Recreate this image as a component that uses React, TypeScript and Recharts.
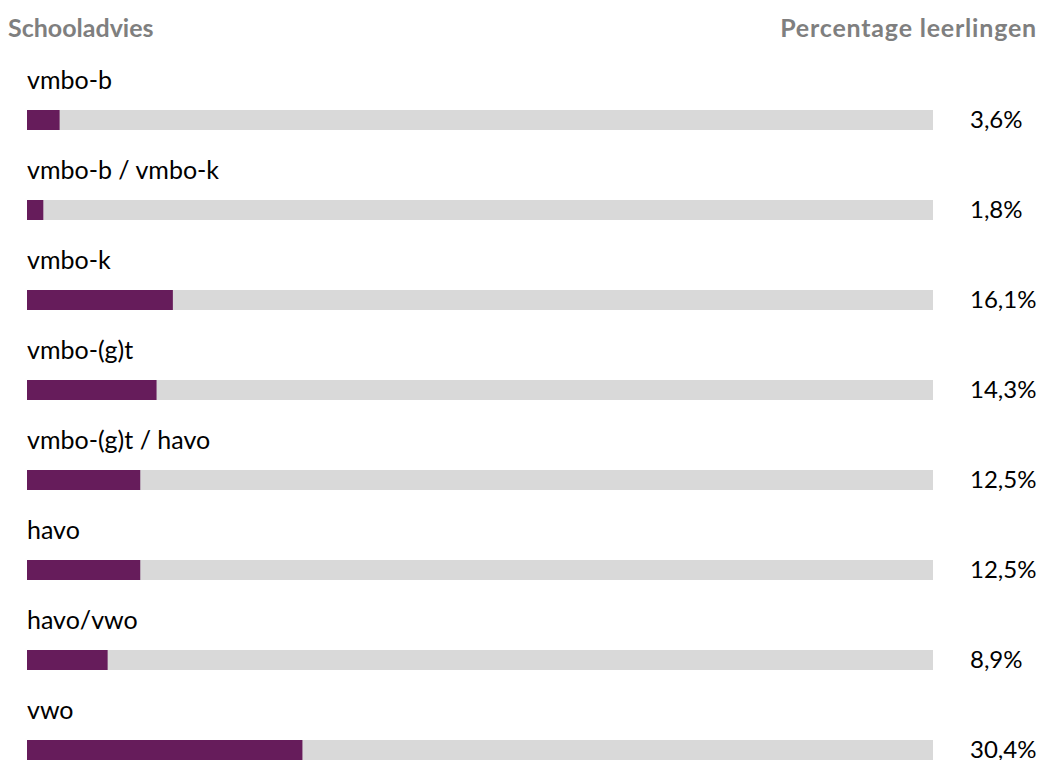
import React from 'react';
import { BarChart, Bar, XAxis, YAxis, LabelList } from 'recharts';

const categories = [
  'vmbo-b',
  'vmbo-b / vmbo-k',
  'vmbo-k',
  'vmbo-(g)t',
  'vmbo-(g)t / havo',
  'havo',
  'havo/vwo',
  'vwo',
];
const percentages = [3.6, 1.8, 16.1, 14.3, 12.5, 12.5, 8.9, 30.4];

const data = categories.map((name, i) => ({ name, value: percentages[i] }));

const PURPLE = '#661c5b';
const TRACK = '#d9d9d9';
const HEADER = '#7f7f7f';
const FONT = 'Lato, "Open Sans", sans-serif';
const PCT_X = 970;

const fmt = (v: number) => `${v.toFixed(1).replace('.', ',')}%`;

const NameLabel = (props: any) => {
  const { x, y, value } = props;
  return (
    <text x={x} y={y - 21} fontSize={25} fontFamily={FONT} fill="#000">
      {value}
    </text>
  );
};

const PctLabel = (props: any) => {
  const { y, value } = props;
  return (
    <text x={PCT_X} y={y + 18} fontSize={24} fontFamily={FONT} fill="#000">
      {fmt(value)}
    </text>
  );
};

export default function App() {
  return (
    <div
      style={{
        position: 'absolute',
        left: 0,
        top: 0,
        width: 1043,
        height: 760,
        overflow: 'hidden',
        background: '#fff',
      }}
    >
      <svg
        width={1043}
        height={60}
        style={{ position: 'absolute', left: 0, top: 0 }}
      >
        <text x={8} y={37} fontSize={25} fontWeight={700} fontFamily={FONT} fill={HEADER}>
          Schooladvies
        </text>
        <text
          x={1037}
          y={37}
          fontSize={25}
          fontWeight={700}
          fontFamily={FONT}
          fill={HEADER}
          textAnchor="end"
          letterSpacing={0.8}
        >
          Percentage leerlingen
        </text>
      </svg>
      <div style={{ position: 'absolute', left: 0, top: 0 }}>
        <BarChart
          width={1043}
          height={800}
          data={data}
          layout="vertical"
          margin={{ top: 75, right: 110, bottom: 5, left: 27 }}
        >
          <XAxis type="number" domain={[0, 100]} hide />
          <YAxis type="category" dataKey="name" hide />
          <Bar
            dataKey="value"
            fill={PURPLE}
            barSize={20}
            background={{ fill: TRACK }}
            isAnimationActive={false}
          >
            <LabelList dataKey="name" content={NameLabel} />
            <LabelList dataKey="value" content={PctLabel} />
          </Bar>
        </BarChart>
      </div>
    </div>
  );
}
